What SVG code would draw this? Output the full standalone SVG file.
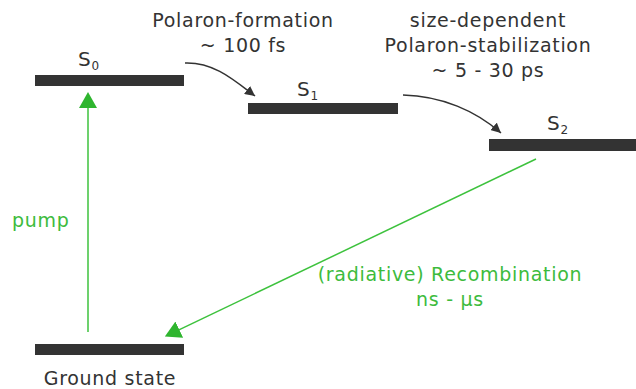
<svg xmlns="http://www.w3.org/2000/svg" width="636" height="389" viewBox="0 0 636 389">
  <style>
    .level { fill: #333333; }
    .lbl { font-family: "DejaVu Sans", Verdana, sans-serif; font-size: 19px; letter-spacing: 0.7px; fill: #333333; }
    .state { font-size: 20px; }
    .sub { font-size: 12px; letter-spacing: 0; }
    .glbl { font-family: "DejaVu Sans", Verdana, sans-serif; font-size: 19px; letter-spacing: 0.7px; fill: #3dbb3d; }
    .relax { fill: none; stroke: #333333; stroke-width: 1.5; }
    .optical { fill: none; stroke: #3dc23d; stroke-width: 1.5; }
  </style>
  <defs>
    <marker id="headBlack" viewBox="0 0 10 10" refX="10" refY="5" markerWidth="10" markerHeight="10" markerUnits="userSpaceOnUse" orient="auto">
      <path d="M0,0 L10,5 L0,10 Z" fill="#333333"/>
    </marker>
    <marker id="headGreen" viewBox="0 0 16 18" refX="1" refY="9" markerWidth="16" markerHeight="18" markerUnits="userSpaceOnUse" orient="auto">
      <path d="M0,0 L16,9 L0,18 Z" fill="#2fb52f"/>
    </marker>
  </defs>

  <!-- energy levels -->
  <g id="S0">
    <rect class="level" x="35" y="75" width="149" height="11"/>
    <text class="lbl state" x="78" y="66">S<tspan class="sub" dy="4">0</tspan></text>
  </g>
  <g id="S1">
    <rect class="level" x="248" y="103" width="150" height="11"/>
    <text class="lbl state" x="297" y="96">S<tspan class="sub" dy="4">1</tspan></text>
  </g>
  <g id="S2">
    <rect class="level" x="489" y="139" width="147" height="12"/>
    <text class="lbl state" x="547" y="130">S<tspan class="sub" dy="4">2</tspan></text>
  </g>
  <g id="ground">
    <rect class="level" x="35" y="344" width="149" height="11"/>
    <text class="lbl" x="110" y="385" text-anchor="middle">Ground state</text>
  </g>

  <!-- transitions -->
  <g id="connectors">
    <path class="relax" d="M185,63 C214,62 234,80 255,96" marker-end="url(#headBlack)"/>
    <path class="relax" d="M403,95 C442,96 476,111 501,133" marker-end="url(#headBlack)"/>
    <path class="optical" d="M88,332 L88,107" marker-end="url(#headGreen)"/>
    <path class="optical" d="M536,159 L178.4,330.1" marker-end="url(#headGreen)"/>
  </g>

  <!-- process labels -->
  <g id="labels">
    <text class="lbl" x="243" y="27" text-anchor="middle">Polaron-formation</text>
    <text class="lbl" x="243" y="52" text-anchor="middle">~ 100 fs</text>
    <text class="lbl" x="488" y="27" text-anchor="middle">size-dependent</text>
    <text class="lbl" x="488" y="52" text-anchor="middle">Polaron-stabilization</text>
    <text class="lbl" x="488" y="77" text-anchor="middle">~ 5 - 30 ps</text>
    <text class="glbl" x="12" y="227">pump</text>
    <text class="glbl" x="450" y="281" text-anchor="middle">(radiative) Recombination</text>
    <text class="glbl" x="450" y="306" text-anchor="middle">ns - µs</text>
  </g>
</svg>
